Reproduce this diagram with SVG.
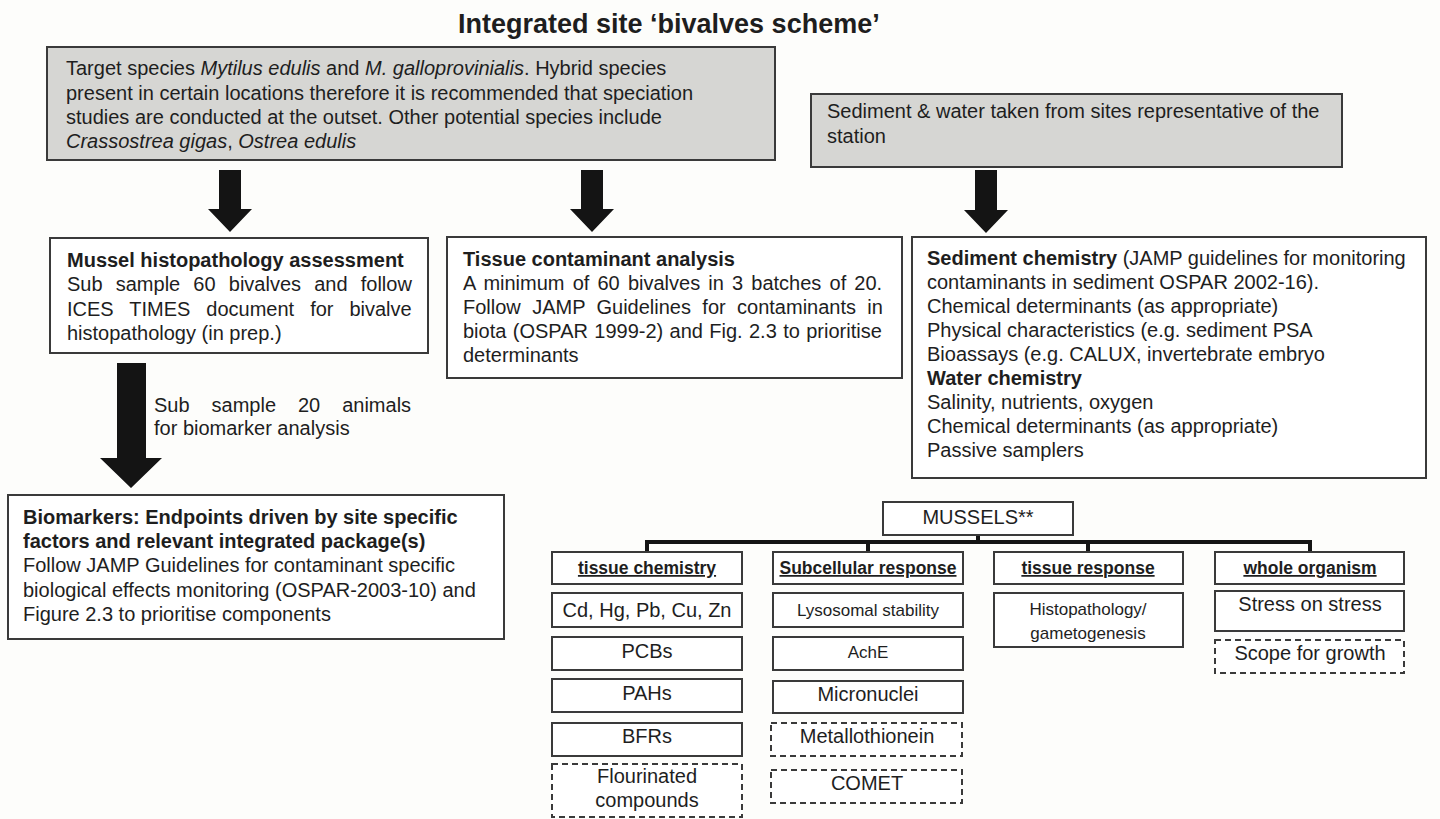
<svg xmlns="http://www.w3.org/2000/svg" width="1440" height="819" viewBox="0 0 1440 819">
<style>
text{font-family:"Liberation Sans",Arial,sans-serif;fill:#1e1e1e;font-size:20px}
.b{font-weight:bold}
.i{font-style:italic}
.t{font-size:27px;font-weight:bold}
.g{fill:#d6d6d3;stroke:#3a3a3a;stroke-width:2}
.w{fill:#fff;stroke:#3a3a3a;stroke-width:2}
.d{fill:#fff;stroke:#3a3a3a;stroke-width:2;stroke-dasharray:6 4}
.h{font-size:17.5px;font-weight:bold;text-decoration:underline}
.s{font-size:17px}
.c{text-anchor:middle}
.ar{fill:#141414}
</style>
<rect width="1440" height="819" fill="#fdfdfb"/>
<text class="t" x="458" y="33">Integrated site ‘bivalves scheme’</text>

<g id="target-species">
<rect class="g" x="47" y="47" width="728" height="113"/>
<text x="66" y="75">Target species <tspan class="i">Mytilus edulis</tspan> and <tspan class="i">M. galloprovinialis</tspan>. Hybrid species</text>
<text x="66" y="99.5">present in certain locations therefore it is recommended that speciation</text>
<text x="66" y="124">studies are conducted at the outset. Other potential species include</text>
<text x="66" y="148"><tspan class="i">Crassostrea gigas</tspan>, <tspan class="i">Ostrea edulis</tspan></text>
</g>

<g id="sediment-water">
<rect class="g" x="811" y="94" width="531" height="73"/>
<text x="827" y="118">Sediment &amp; water taken from sites representative of the</text>
<text x="827" y="143">station</text>
</g>

<g id="mussel-histopathology">
<rect class="w" x="50" y="238" width="378" height="115"/>
<text class="b" x="67" y="267">Mussel histopathology assessment</text>
<text x="67" y="291" word-spacing="7.6">Sub sample 60 bivalves and follow</text>
<text x="67" y="316" word-spacing="10.4">ICES TIMES document for bivalve</text>
<text x="67" y="340">histopathology (in prep.)</text>
</g>

<g id="tissue-contaminant">
<rect class="w" x="447" y="237" width="455" height="141"/>
<text class="b" x="463" y="266">Tissue contaminant analysis</text>
<text x="463" y="290" word-spacing="2.6">A minimum of 60 bivalves in 3 batches of 20.</text>
<text x="463" y="314" word-spacing="5.8">Follow JAMP Guidelines for contaminants in</text>
<text x="463" y="338" word-spacing="0.8">biota (OSPAR 1999-2) and Fig. 2.3 to prioritise</text>
<text x="463" y="362">determinants</text>
</g>

<g id="sediment-chemistry">
<rect class="w" x="912" y="237" width="514" height="241"/>
<text x="927" y="265"><tspan class="b">Sediment chemistry</tspan> (JAMP guidelines for monitoring</text>
<text x="927" y="289">contaminants in sediment OSPAR 2002-16).</text>
<text x="927" y="313">Chemical determinants (as appropriate)</text>
<text x="927" y="337">Physical characteristics (e.g. sediment PSA</text>
<text x="927" y="361">Bioassays (e.g. CALUX, invertebrate embryo</text>
<text class="b" x="927" y="385">Water chemistry</text>
<text x="927" y="409">Salinity, nutrients, oxygen</text>
<text x="927" y="433">Chemical determinants (as appropriate)</text>
<text x="927" y="457">Passive samplers</text>
</g>

<g id="subsample-label">
<text x="154" y="412" word-spacing="16.4">Sub sample 20 animals</text>
<text x="154" y="435">for biomarker analysis</text>
</g>

<g id="biomarkers">
<rect class="w" x="8" y="495" width="496" height="144"/>
<text class="b" x="23" y="524">Biomarkers: Endpoints driven by site specific</text>
<text class="b" x="23" y="548">factors and relevant integrated package(s)</text>
<text x="23" y="572">Follow JAMP Guidelines for contaminant specific</text>
<text x="23" y="597">biological effects monitoring (OSPAR-2003-10) and</text>
<text x="23" y="621">Figure 2.3 to prioritise components</text>
</g>

<g id="connectors">
<polygon class="ar" points="219,170 241,170 241,209 252,209 230,232 208,209 219,209"/>
<polygon class="ar" points="581,170 603,170 603,209 614,209 592,232 570,209 581,209"/>
<polygon class="ar" points="975,170 997,170 997,210 1008,210 986,233 964,210 975,210"/>
<polygon class="ar" points="117,363 146,363 146,458 162,458 131,488 100,458 117,458"/>
<g fill="none" stroke="#141414" stroke-width="4">
<path d="M978 535V542M645 542H1312M647 542V552M868 542V552M1088 542V552M1310 542V552"/>
</g>
</g>

<g id="mussels">
<rect class="w" x="883" y="502" width="190" height="33"/>
<text class="c" x="978" y="524">MUSSELS**</text>
</g>

<g id="tissue-chemistry">
<rect class="w" x="552" y="552" width="190" height="32"/>
<text class="h c" x="647" y="574">tissue chemistry</text>
</g>
<g id="cd-hg"><rect class="w" x="552" y="593" width="190" height="34"/><text class="c" x="647" y="617">Cd, Hg, Pb, Cu, Zn</text></g>
<g id="pcbs"><rect class="w" x="552" y="637" width="190" height="33"/><text class="c" x="647" y="658">PCBs</text></g>
<g id="pahs"><rect class="w" x="552" y="679" width="190" height="33"/><text class="c" x="647" y="700">PAHs</text></g>
<g id="bfrs"><rect class="w" x="552" y="723" width="190" height="33"/><text class="c" x="647" y="743">BFRs</text></g>
<g id="flourinated"><rect class="d" x="552" y="764" width="190" height="53"/><text class="c" x="647" y="783">Flourinated</text><text class="c" x="647" y="807">compounds</text></g>

<g id="subcellular">
<rect class="w" x="773" y="552" width="190" height="32"/>
<text class="h c" x="868" y="574">Subcellular response</text>
</g>
<g id="lysosomal"><rect class="w" x="773" y="593" width="190" height="34"/><text class="s c" x="868" y="616">Lysosomal stability</text></g>
<g id="ache"><rect class="w" x="773" y="637" width="190" height="33"/><text class="s c" x="868" y="658">AchE</text></g>
<g id="micronuclei"><rect class="w" x="773" y="681" width="190" height="32"/><text class="c" x="868" y="701">Micronuclei</text></g>
<g id="metallothionein"><rect class="d" x="771" y="723" width="191" height="33"/><text class="c" x="867" y="743">Metallothionein</text></g>
<g id="comet"><rect class="d" x="771" y="770" width="191" height="33"/><text class="c" x="867" y="790">COMET</text></g>

<g id="tissue-response">
<rect class="w" x="994" y="552" width="189" height="32"/>
<text class="h c" x="1088" y="574">tissue response</text>
</g>
<g id="histopathology"><rect class="w" x="994" y="593" width="189" height="54"/><text class="s c" x="1088" y="615">Histopathology/</text><text class="s c" x="1088" y="639">gametogenesis</text></g>

<g id="whole-organism">
<rect class="w" x="1215" y="552" width="189" height="32"/>
<text class="h c" x="1310" y="574">whole organism</text>
</g>
<g id="stress"><rect class="w" x="1215" y="591" width="189" height="40"/><text class="c" x="1310" y="611">Stress on stress</text></g>
<g id="scope"><rect class="d" x="1215" y="640" width="189" height="33"/><text class="c" x="1310" y="660">Scope for growth</text></g>
</svg>
